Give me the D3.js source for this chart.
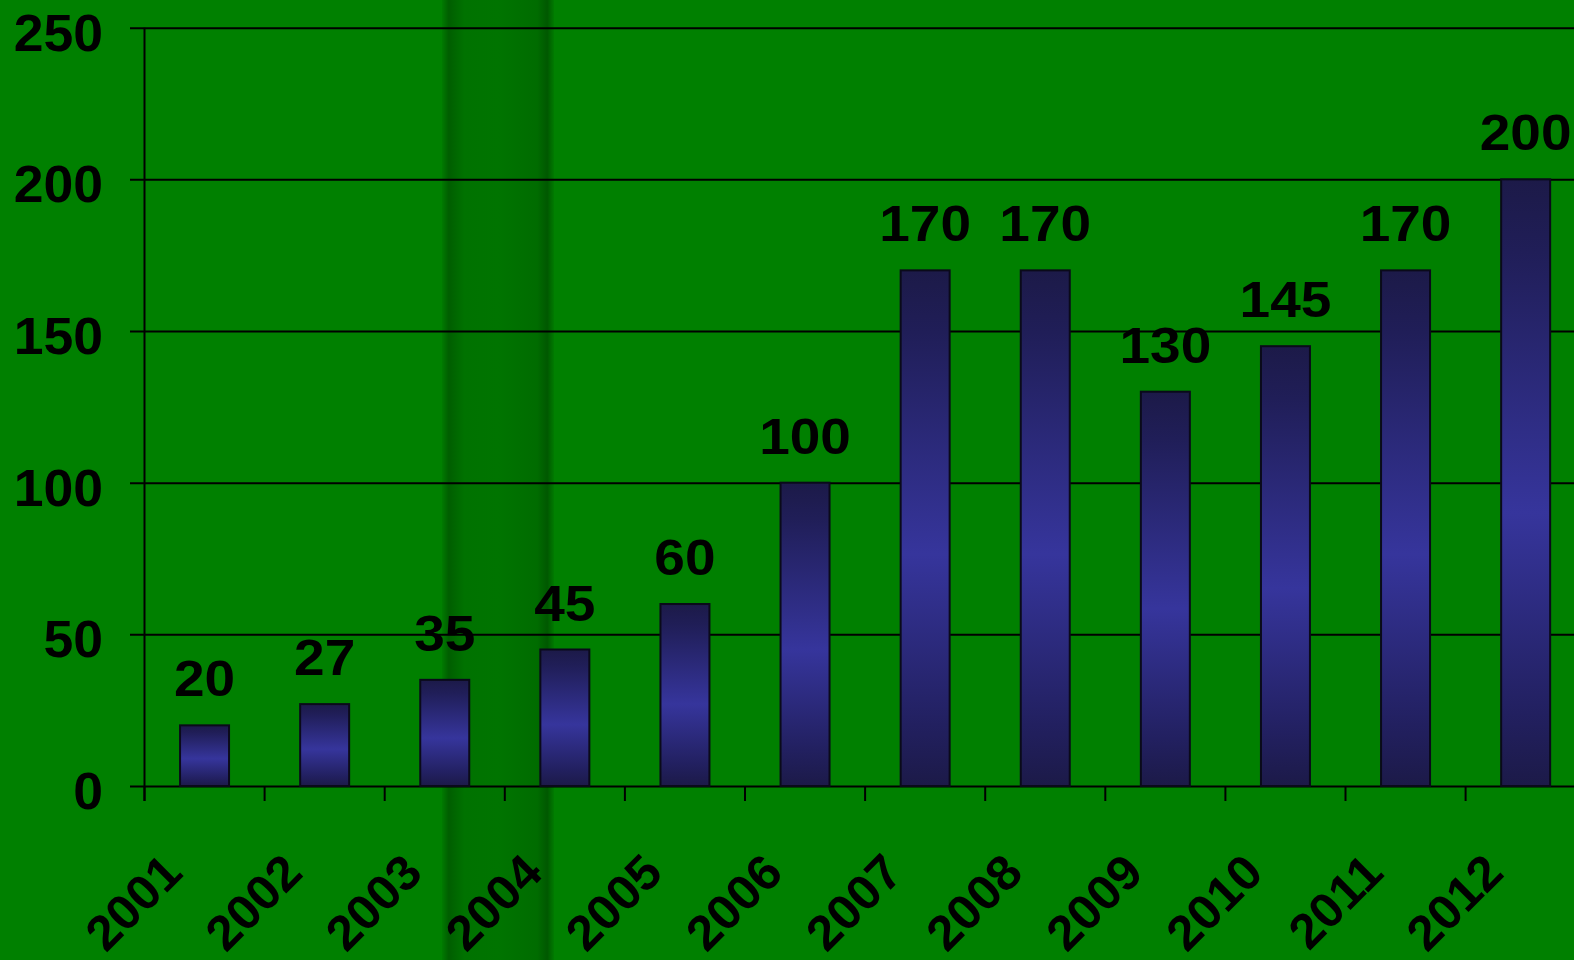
<!DOCTYPE html>
<html>
<head>
<meta charset="utf-8">
<script src="https://cdn.jsdelivr.net/npm/d3@7"></script>
<style>
  html, body { margin: 0; padding: 0; background: #008000; overflow: hidden; }
  svg { display: block; }
  text { font-family: "Liberation Sans", Arial, sans-serif; font-weight: bold; fill: #000; }
</style>
</head>
<body>
<svg id="chart" width="1574" height="960"></svg>
<script>
// Yearly values
const years = ["2001","2002","2003","2004","2005","2006","2007","2008","2009","2010","2011","2012"];
const values = [20, 27, 35, 45, 60, 100, 170, 170, 130, 145, 170, 200];
const yTicks = [0, 50, 100, 150, 200, 250];

const W = 1574, H = 960;
const plotLeft = 144.5, plotTop = 27.7, plotBottom = 786;
const bandW = 120.1;
const FS = 50, STRETCH = 1.1;

const svg = d3.select("#chart");
const defs = svg.append("defs");

// Bar fill: dark at the ends, lighter blue toward the middle
const barGrad = defs.append("linearGradient")
  .attr("id", "barFill").attr("x1", 0).attr("y1", 0).attr("x2", 0).attr("y2", 1);
[[0, "#1c1a48"], [0.12, "#201e58"], [0.55, "#36359c"], [0.88, "#222060"], [1, "#1c1a48"]]
  .forEach(([o, c]) => barGrad.append("stop").attr("offset", o).attr("stop-color", c));

// Darker vertical stripe in the backdrop
const stripeGrad = defs.append("linearGradient")
  .attr("id", "stripe").attr("x1", 0).attr("y1", 0).attr("x2", 1).attr("y2", 0);
[[0, "#007a00"], [0.06, "#005e00"], [0.2, "#007200"], [0.5, "#007400"], [0.85, "#006c00"], [0.94, "#005800"], [1, "#007a00"]]
  .forEach(([o, c]) => stripeGrad.append("stop").attr("offset", o).attr("stop-color", c));

svg.append("rect").attr("width", W).attr("height", H).attr("fill", "#008000");
svg.append("rect").attr("x", 442).attr("y", 0).attr("width", 112).attr("height", H)
  .attr("fill", "url(#stripe)");

const x = d3.scaleBand().domain(years).range([plotLeft, plotLeft + bandW * years.length]).paddingInner(0).paddingOuter(0);
const y = d3.scaleLinear().domain([0, 250]).range([plotBottom, plotTop]);

// Horizontal gridlines with y labels
const yAxis = d3.axisLeft(y).tickValues(yTicks).tickSize(-(W - plotLeft)).tickSizeOuter(0).tickFormat(() => "");
const gy = svg.append("g").attr("transform", `translate(${plotLeft},0)`).call(yAxis);
gy.select(".domain").remove();
gy.selectAll(".tick line").attr("stroke", "#000").attr("stroke-width", 2).attr("x1", -14.5);
gy.selectAll(".tick").append("text")
  .attr("transform", `translate(-41.5,22.5) scale(1.04,1)`)
  .attr("text-anchor", "end").attr("font-size", FS + 1.5)
  .text(d => d);

// Vertical axis line
svg.append("line").attr("x1", plotLeft).attr("x2", plotLeft).attr("y1", y(250)).attr("y2", plotBottom + 15)
  .attr("stroke", "#000").attr("stroke-width", 2);

// Bars
svg.append("g").selectAll("rect").data(values).join("rect")
  .attr("x", (d, i) => x(years[i]) + x.bandwidth() / 2 - 24.5)
  .attr("width", 49)
  .attr("y", d => y(d))
  .attr("height", d => plotBottom - y(d))
  .attr("fill", "url(#barFill)")
  .attr("stroke", "#0a0a1a").attr("stroke-width", 2);

// Value labels
svg.append("g").selectAll("text").data(values).join("text")
  .attr("transform", (d, i) => `translate(${x(years[i]) + x.bandwidth() / 2},${y(d) - 29}) scale(${STRETCH},1)`)
  .attr("text-anchor", "middle").attr("font-size", FS)
  .text(d => d);

// Category ticks on the baseline
svg.append("g").selectAll("line").data(years).join("line")
  .attr("x1", d => x(d)).attr("x2", d => x(d))
  .attr("y1", plotBottom).attr("y2", plotBottom + 15)
  .attr("stroke", "#000").attr("stroke-width", 2);

// Rotated year labels
svg.append("g").selectAll("text").data(years).join("text")
  .attr("transform", d => `translate(${x(d) + x.bandwidth() / 2 - 20},${875}) rotate(-45) scale(1.02,1)`)
  .attr("text-anchor", "end").attr("font-size", FS - 1)
  .text(d => d);
</script>
</body>
</html>
